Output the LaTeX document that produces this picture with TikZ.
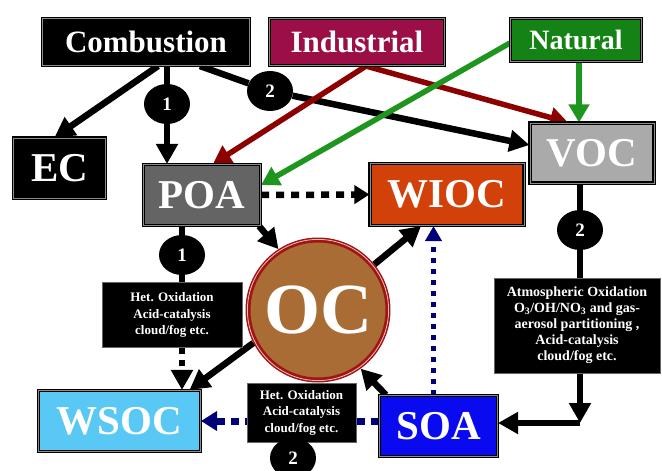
\documentclass[tikz,border=0pt]{standalone}
\usepackage{fontspec}
\setmainfont{Liberation Serif}
\usetikzlibrary{arrows.meta,shapes.geometric,backgrounds,calc}
\definecolor{indc}{RGB}{155,15,70}
\definecolor{natc}{RGB}{20,130,20}
\definecolor{poac}{RGB}{100,100,100}
\definecolor{vocc}{RGB}{170,170,170}
\definecolor{wiocc}{RGB}{210,65,10}
\definecolor{ocbrown}{RGB}{168,108,52}
\definecolor{ocred}{RGB}{160,20,20}
\definecolor{ocpink}{RGB}{235,190,190}
\definecolor{wsocc}{RGB}{90,200,245}
\definecolor{soac}{RGB}{10,10,240}
\definecolor{arrred}{RGB}{140,0,0}
\definecolor{arrgreen}{RGB}{30,150,30}
\definecolor{navyc}{RGB}{0,0,120}
\tikzset{
  box/.style={rectangle, inner sep=0pt, draw=black, line width=1.1pt, double=black!45, double distance=0.9pt, text=white, font=\bfseries\fontsize{41}{41}\selectfont},
  srcbox/.style={box, font=\bfseries\fontsize{31}{31}\selectfont},
  notebox/.style={rectangle, fill=black, draw=black!60, line width=1pt, text=white, align=center, inner sep=0pt, font=\bfseries\fontsize{13}{16.5}\selectfont},
  numc/.style={ellipse, fill=black, inner sep=0pt, minimum width=46pt, minimum height=40pt, text=white, font=\bfseries\fontsize{19}{19}\selectfont},
  bigarr/.style={line width=6.5pt, -{Triangle[length=20pt,width=21pt]}},
  redarr/.style={arrred, line width=5.5pt, -{Triangle[length=18pt,width=20pt]}},
  greenarr/.style={arrgreen, line width=5.5pt, -{Triangle[length=18pt,width=20pt]}},
  blackdot/.style={line width=6.5pt, dash pattern=on 8pt off 7pt, -{Triangle[length=15pt,width=18pt]}},
  blackdotb/.style={line width=6.5pt, dash pattern=on 6pt off 6pt, -{Triangle[length=20pt,width=21pt]}},
  navydot/.style={navyc, line width=5.5pt, dash pattern=on 5pt off 6pt, -{Triangle[length=15pt,width=16pt]}},
  navydash/.style={navyc, line width=7pt, dash pattern=on 8pt off 6pt, -{Triangle[length=16pt,width=19pt]}},
}
\begin{document}
\begin{tikzpicture}[x=1pt,y=-1pt]
\useasboundingbox (0,0) rectangle (662,471);
% boxes
\node[srcbox, fill=black, minimum width=207pt, minimum height=47pt] (comb) at (146,42) {Combustion};
\node[srcbox, fill=indc, minimum width=175pt, minimum height=47pt] (ind) at (357,42) {Industrial};
\node[srcbox, fill=natc, minimum width=131pt, minimum height=43pt, font=\bfseries\fontsize{28}{28}\selectfont] (nat) at (576,40) {Natural};
\node[box, fill=black, minimum width=92pt, minimum height=60pt] (ec) at (59.5,168) {EC};
\node[box, fill=poac, minimum width=117pt, minimum height=61pt] (poa) at (202,195) {POA};
\node[box, fill=vocc, minimum width=124pt, minimum height=60pt] (voc) at (592,153) {VOC};
\node[box, fill=wiocc, minimum width=154pt, minimum height=62pt] (wioc) at (447,194.5) {WIOC};
\node[circle, minimum size=140pt, inner sep=0pt, fill=ocbrown, draw=ocred, line width=5pt, text=white, font=\bfseries\fontsize{72}{72}\selectfont] (oc) at (318,310) {OC};
\draw[ocpink, line width=0.8pt] (oc.center) circle[radius=70.6pt];
\node[box, fill=wsocc, minimum width=162pt, minimum height=61pt] (wsoc) at (119.5,421) {WSOC};
\node[box, fill=soac, minimum width=118pt, minimum height=61pt] (soa) at (438.5,426) {SOA};
\node[notebox, minimum width=140pt, minimum height=65pt] (het1) at (172,315) {Het. Oxidation\\Acid-catalysis\\cloud/fog etc.};
\node[notebox, minimum width=109pt, minimum height=59pt] (het2) at (301.5,412.5) {Het. Oxidation\\Acid-catalysis\\cloud/fog etc.};
\node[notebox, minimum width=166pt, minimum height=95pt, font=\bfseries\fontsize{14}{16}\selectfont] (atm) at (577,325.5) {Atmospheric Oxidation\\O\textsubscript{3}/OH/NO\textsubscript{3} and gas-\\aerosol partitioning ,\\Acid-catalysis\\cloud/fog etc.};
% numbered circles
\node[numc] (n1a) at (167,104) {1};
\node[numc] (n2a) at (270,91) {2};
\node[numc] (n2b) at (580,230) {2};
\node[numc] (n1b) at (182,255) {1};
\node[numc] (n2c) at (293,458) {2};
\coordinate (natb) at ([xshift=3pt]nat.south);
\coordinate (soatop) at ([xshift=-5pt]soa.north);
\coordinate (bend) at (580,423);
\begin{scope}[on background layer]
\draw[bigarr] ([xshift=12pt]comb.south) -- ([xshift=-5pt]ec.north);
\draw[bigarr] (comb.south -| n1a) -- (n1a) -- (poa.north -| n1a);
\draw[bigarr] ([xshift=54pt]comb.south) -- (n2a) -- ([yshift=8pt]voc.west);
\draw[redarr] ([xshift=9pt]ind.south) -- ([xshift=11pt]poa.north);
\draw[redarr] ([xshift=9pt]ind.south) -- ([xshift=-24pt]voc.north);
\draw[greenarr] ([yshift=-3pt]nat.west) -- ([yshift=10pt]poa.east);
\draw[greenarr] (natb) -- (natb |- voc.north);
\draw[blackdot] (poa.east) -- (wioc.west);
\draw[bigarr] ([xshift=-2pt]poa.south east) -- (oc.123);
\draw[bigarr] (oc.39) -- ([xshift=-26pt]wioc.south);
\draw[navydot] (soatop) -- (soatop |- wioc.south);
\draw[line width=5.5pt] (poa.south -| n1b) -- (n1b |- het1.north);
\draw[blackdotb] (het1.south -| n1b) -- (wsoc.north -| n1b);
\draw[bigarr] (oc.207) -- ([xshift=70pt]wsoc.north);
\draw[bigarr] ([xshift=7pt]soa.north west) -- (oc.306);
\draw[navydash] (soa.west |- wsoc.east) -- (wsoc.east);
\draw[line width=6pt] (n2b |- voc.south) -- (n2b |- atm.north);
\draw[bigarr] (n2b |- atm.south) -- (bend);
\draw[bigarr] (bend) -- (soa.east |- bend);
\end{scope}
\end{tikzpicture}
\end{document}
